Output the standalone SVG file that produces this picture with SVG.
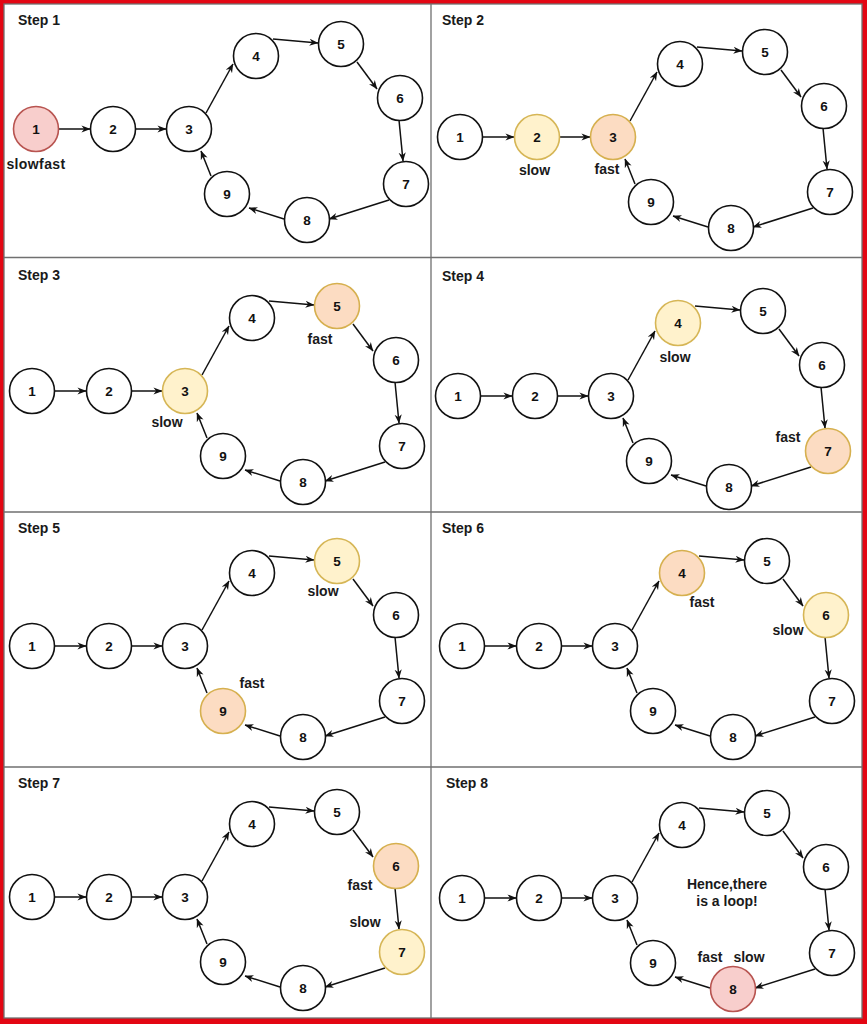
<svg xmlns="http://www.w3.org/2000/svg" width="867" height="1024" viewBox="0 0 867 1024">
<defs>
<style>
.title{font:bold 14px "Liberation Sans",Arial,sans-serif;fill:#1a1a1a}
.lbl{font:bold 14px "Liberation Sans",Arial,sans-serif;fill:#1a1a1a;text-anchor:middle}
.node circle{fill:#ffffff;stroke:#111;stroke-width:1.6}
.node text{font:bold 13.5px "Liberation Sans",Arial,sans-serif;fill:#111;text-anchor:middle}
.node.slow circle{fill:#fff2cc;stroke:#d6b656}
.node.fast circle{fill:#fcdcc2;stroke:#d6b04f}
.node.hit circle{fill:#f8cecc;stroke:#b85450}
.links path{fill:none;stroke:#111;stroke-width:1.5;marker-end:url(#arrow)}
.grid{stroke:#707070;stroke-width:1.3;fill:none}
.sheet{fill:#ffffff;stroke:#707070;stroke-width:1.3}
</style>
<marker id="arrow" viewBox="0 0 10 10" refX="9.5" refY="5" markerWidth="9" markerHeight="9" markerUnits="userSpaceOnUse" orient="auto">
<path d="M0,1 L10,5 L0,9 L3,5 z" fill="#111"/>
</marker>
</defs>

<!-- frame and panel grid -->
<rect x="0" y="0" width="867" height="1024" fill="#e30613"/>
<rect class="sheet" x="4" y="4" width="858" height="1014"/>
<path class="grid" d="M431,4 V1018 M4,257.5 H862 M4,512 H862 M4,767 H862"/>

<!-- step titles -->
<text class="title" x="18" y="25">Step 1</text>
<text class="title" x="442" y="25">Step 2</text>
<text class="title" x="18" y="280">Step 3</text>
<text class="title" x="442" y="281">Step 4</text>
<text class="title" x="18" y="533">Step 5</text>
<text class="title" x="442" y="533">Step 6</text>
<text class="title" x="18" y="788">Step 7</text>
<text class="title" x="446" y="788">Step 8</text>

<!-- Step 1 -->
<g id="step1" transform="translate(0,0)">
<g class="links">
<path d="M59,129 L90,129"/><path d="M136,129 L166,129"/><path d="M206,113 L233,64"/><path d="M273,39 L318,43"/><path d="M357,62 L377,89"/><path d="M399,120 L403,161"/><path d="M389,200 L329,219"/><path d="M284,219 L249,208"/><path d="M211,176 L201,151"/>
</g>
<g id="s1-n1" class="node hit"><circle cx="36" cy="129" r="22.5"/><text x="36" y="133.8">1</text></g>
<g id="s1-n2" class="node"><circle cx="113" cy="129" r="22.5"/><text x="113" y="133.8">2</text></g>
<g id="s1-n3" class="node"><circle cx="189" cy="129" r="22.5"/><text x="189" y="133.8">3</text></g>
<g id="s1-n4" class="node"><circle cx="256" cy="56" r="22.5"/><text x="256" y="60.8">4</text></g>
<g id="s1-n5" class="node"><circle cx="341" cy="44" r="22.5"/><text x="341" y="48.8">5</text></g>
<g id="s1-n6" class="node"><circle cx="400" cy="98" r="22.5"/><text x="400" y="102.8">6</text></g>
<g id="s1-n7" class="node"><circle cx="406" cy="184" r="22.5"/><text x="406" y="188.8">7</text></g>
<g id="s1-n8" class="node"><circle cx="307" cy="220" r="22.5"/><text x="307" y="224.8">8</text></g>
<g id="s1-n9" class="node"><circle cx="227" cy="194" r="22.5"/><text x="227" y="198.8">9</text></g>
<text class="lbl" x="36" y="169" letter-spacing="0.4">slowfast</text>
</g>

<!-- Step 2 -->
<g id="step2" transform="translate(424,8)">
<g class="links">
<path d="M59,129 L90,129"/><path d="M136,129 L166,129"/><path d="M206,113 L233,64"/><path d="M273,39 L318,43"/><path d="M357,62 L377,89"/><path d="M399,120 L403,161"/><path d="M389,200 L329,219"/><path d="M284,219 L249,208"/><path d="M211,176 L201,151"/>
</g>
<g id="s2-n1" class="node"><circle cx="36" cy="129" r="22.5"/><text x="36" y="133.8">1</text></g>
<g id="s2-n2" class="node slow"><circle cx="113" cy="129" r="22.5"/><text x="113" y="133.8">2</text></g>
<g id="s2-n3" class="node fast"><circle cx="189" cy="129" r="22.5"/><text x="189" y="133.8">3</text></g>
<g id="s2-n4" class="node"><circle cx="256" cy="56" r="22.5"/><text x="256" y="60.8">4</text></g>
<g id="s2-n5" class="node"><circle cx="341" cy="44" r="22.5"/><text x="341" y="48.8">5</text></g>
<g id="s2-n6" class="node"><circle cx="400" cy="98" r="22.5"/><text x="400" y="102.8">6</text></g>
<g id="s2-n7" class="node"><circle cx="406" cy="184" r="22.5"/><text x="406" y="188.8">7</text></g>
<g id="s2-n8" class="node"><circle cx="307" cy="220" r="22.5"/><text x="307" y="224.8">8</text></g>
<g id="s2-n9" class="node"><circle cx="227" cy="194" r="22.5"/><text x="227" y="198.8">9</text></g>
<text class="lbl" x="110.5" y="167">slow</text>
<text class="lbl" x="183" y="166">fast</text>
</g>

<!-- Step 3 -->
<g id="step3" transform="translate(-4,262)">
<g class="links">
<path d="M59,129 L90,129"/><path d="M136,129 L166,129"/><path d="M206,113 L233,64"/><path d="M273,39 L318,43"/><path d="M357,62 L377,89"/><path d="M399,120 L403,161"/><path d="M389,200 L329,219"/><path d="M284,219 L249,208"/><path d="M211,176 L201,151"/>
</g>
<g id="s3-n1" class="node"><circle cx="36" cy="129" r="22.5"/><text x="36" y="133.8">1</text></g>
<g id="s3-n2" class="node"><circle cx="113" cy="129" r="22.5"/><text x="113" y="133.8">2</text></g>
<g id="s3-n3" class="node slow"><circle cx="189" cy="129" r="22.5"/><text x="189" y="133.8">3</text></g>
<g id="s3-n4" class="node"><circle cx="256" cy="56" r="22.5"/><text x="256" y="60.8">4</text></g>
<g id="s3-n5" class="node fast"><circle cx="341" cy="44" r="22.5"/><text x="341" y="48.8">5</text></g>
<g id="s3-n6" class="node"><circle cx="400" cy="98" r="22.5"/><text x="400" y="102.8">6</text></g>
<g id="s3-n7" class="node"><circle cx="406" cy="184" r="22.5"/><text x="406" y="188.8">7</text></g>
<g id="s3-n8" class="node"><circle cx="307" cy="220" r="22.5"/><text x="307" y="224.8">8</text></g>
<g id="s3-n9" class="node"><circle cx="227" cy="194" r="22.5"/><text x="227" y="198.8">9</text></g>
<text class="lbl" x="324" y="82">fast</text>
<text class="lbl" x="171" y="165">slow</text>
</g>

<!-- Step 4 -->
<g id="step4" transform="translate(422,267)">
<g class="links">
<path d="M59,129 L90,129"/><path d="M136,129 L166,129"/><path d="M206,113 L233,64"/><path d="M273,39 L318,43"/><path d="M357,62 L377,89"/><path d="M399,120 L403,161"/><path d="M389,200 L329,219"/><path d="M284,219 L249,208"/><path d="M211,176 L201,151"/>
</g>
<g id="s4-n1" class="node"><circle cx="36" cy="129" r="22.5"/><text x="36" y="133.8">1</text></g>
<g id="s4-n2" class="node"><circle cx="113" cy="129" r="22.5"/><text x="113" y="133.8">2</text></g>
<g id="s4-n3" class="node"><circle cx="189" cy="129" r="22.5"/><text x="189" y="133.8">3</text></g>
<g id="s4-n4" class="node slow"><circle cx="256" cy="56" r="22.5"/><text x="256" y="60.8">4</text></g>
<g id="s4-n5" class="node"><circle cx="341" cy="44" r="22.5"/><text x="341" y="48.8">5</text></g>
<g id="s4-n6" class="node"><circle cx="400" cy="98" r="22.5"/><text x="400" y="102.8">6</text></g>
<g id="s4-n7" class="node fast"><circle cx="406" cy="184" r="22.5"/><text x="406" y="188.8">7</text></g>
<g id="s4-n8" class="node"><circle cx="307" cy="220" r="22.5"/><text x="307" y="224.8">8</text></g>
<g id="s4-n9" class="node"><circle cx="227" cy="194" r="22.5"/><text x="227" y="198.8">9</text></g>
<text class="lbl" x="253" y="95">slow</text>
<text class="lbl" x="366" y="175">fast</text>
</g>

<!-- Step 5 -->
<g id="step5" transform="translate(-4,517)">
<g class="links">
<path d="M59,129 L90,129"/><path d="M136,129 L166,129"/><path d="M206,113 L233,64"/><path d="M273,39 L318,43"/><path d="M357,62 L377,89"/><path d="M399,120 L403,161"/><path d="M389,200 L329,219"/><path d="M284,219 L249,208"/><path d="M211,176 L201,151"/>
</g>
<g id="s5-n1" class="node"><circle cx="36" cy="129" r="22.5"/><text x="36" y="133.8">1</text></g>
<g id="s5-n2" class="node"><circle cx="113" cy="129" r="22.5"/><text x="113" y="133.8">2</text></g>
<g id="s5-n3" class="node"><circle cx="189" cy="129" r="22.5"/><text x="189" y="133.8">3</text></g>
<g id="s5-n4" class="node"><circle cx="256" cy="56" r="22.5"/><text x="256" y="60.8">4</text></g>
<g id="s5-n5" class="node slow"><circle cx="341" cy="44" r="22.5"/><text x="341" y="48.8">5</text></g>
<g id="s5-n6" class="node"><circle cx="400" cy="98" r="22.5"/><text x="400" y="102.8">6</text></g>
<g id="s5-n7" class="node"><circle cx="406" cy="184" r="22.5"/><text x="406" y="188.8">7</text></g>
<g id="s5-n8" class="node"><circle cx="307" cy="220" r="22.5"/><text x="307" y="224.8">8</text></g>
<g id="s5-n9" class="node fast"><circle cx="227" cy="194" r="22.5"/><text x="227" y="198.8">9</text></g>
<text class="lbl" x="327" y="79">slow</text>
<text class="lbl" x="256" y="171">fast</text>
</g>

<!-- Step 6 -->
<g id="step6" transform="translate(426,517)">
<g class="links">
<path d="M59,129 L90,129"/><path d="M136,129 L166,129"/><path d="M206,113 L233,64"/><path d="M273,39 L318,43"/><path d="M357,62 L377,89"/><path d="M399,120 L403,161"/><path d="M389,200 L329,219"/><path d="M284,219 L249,208"/><path d="M211,176 L201,151"/>
</g>
<g id="s6-n1" class="node"><circle cx="36" cy="129" r="22.5"/><text x="36" y="133.8">1</text></g>
<g id="s6-n2" class="node"><circle cx="113" cy="129" r="22.5"/><text x="113" y="133.8">2</text></g>
<g id="s6-n3" class="node"><circle cx="189" cy="129" r="22.5"/><text x="189" y="133.8">3</text></g>
<g id="s6-n4" class="node fast"><circle cx="256" cy="56" r="22.5"/><text x="256" y="60.8">4</text></g>
<g id="s6-n5" class="node"><circle cx="341" cy="44" r="22.5"/><text x="341" y="48.8">5</text></g>
<g id="s6-n6" class="node slow"><circle cx="400" cy="98" r="22.5"/><text x="400" y="102.8">6</text></g>
<g id="s6-n7" class="node"><circle cx="406" cy="184" r="22.5"/><text x="406" y="188.8">7</text></g>
<g id="s6-n8" class="node"><circle cx="307" cy="220" r="22.5"/><text x="307" y="224.8">8</text></g>
<g id="s6-n9" class="node"><circle cx="227" cy="194" r="22.5"/><text x="227" y="198.8">9</text></g>
<text class="lbl" x="276" y="90">fast</text>
<text class="lbl" x="362" y="118">slow</text>
</g>

<!-- Step 7 -->
<g id="step7" transform="translate(-4,768)">
<g class="links">
<path d="M59,129 L90,129"/><path d="M136,129 L166,129"/><path d="M206,113 L233,64"/><path d="M273,39 L318,43"/><path d="M357,62 L377,89"/><path d="M399,120 L403,161"/><path d="M389,200 L329,219"/><path d="M284,219 L249,208"/><path d="M211,176 L201,151"/>
</g>
<g id="s7-n1" class="node"><circle cx="36" cy="129" r="22.5"/><text x="36" y="133.8">1</text></g>
<g id="s7-n2" class="node"><circle cx="113" cy="129" r="22.5"/><text x="113" y="133.8">2</text></g>
<g id="s7-n3" class="node"><circle cx="189" cy="129" r="22.5"/><text x="189" y="133.8">3</text></g>
<g id="s7-n4" class="node"><circle cx="256" cy="56" r="22.5"/><text x="256" y="60.8">4</text></g>
<g id="s7-n5" class="node"><circle cx="341" cy="44" r="22.5"/><text x="341" y="48.8">5</text></g>
<g id="s7-n6" class="node fast"><circle cx="400" cy="98" r="22.5"/><text x="400" y="102.8">6</text></g>
<g id="s7-n7" class="node slow"><circle cx="406" cy="184" r="22.5"/><text x="406" y="188.8">7</text></g>
<g id="s7-n8" class="node"><circle cx="307" cy="220" r="22.5"/><text x="307" y="224.8">8</text></g>
<g id="s7-n9" class="node"><circle cx="227" cy="194" r="22.5"/><text x="227" y="198.8">9</text></g>
<text class="lbl" x="364" y="122">fast</text>
<text class="lbl" x="369" y="159">slow</text>
</g>

<!-- Step 8 -->
<g id="step8" transform="translate(426,769)">
<g class="links">
<path d="M59,129 L90,129"/><path d="M136,129 L166,129"/><path d="M206,113 L233,64"/><path d="M273,39 L318,43"/><path d="M357,62 L377,89"/><path d="M399,120 L403,161"/><path d="M389,200 L329,219"/><path d="M284,219 L249,208"/><path d="M211,176 L201,151"/>
</g>
<g id="s8-n1" class="node"><circle cx="36" cy="129" r="22.5"/><text x="36" y="133.8">1</text></g>
<g id="s8-n2" class="node"><circle cx="113" cy="129" r="22.5"/><text x="113" y="133.8">2</text></g>
<g id="s8-n3" class="node"><circle cx="189" cy="129" r="22.5"/><text x="189" y="133.8">3</text></g>
<g id="s8-n4" class="node"><circle cx="256" cy="56" r="22.5"/><text x="256" y="60.8">4</text></g>
<g id="s8-n5" class="node"><circle cx="341" cy="44" r="22.5"/><text x="341" y="48.8">5</text></g>
<g id="s8-n6" class="node"><circle cx="400" cy="98" r="22.5"/><text x="400" y="102.8">6</text></g>
<g id="s8-n7" class="node"><circle cx="406" cy="184" r="22.5"/><text x="406" y="188.8">7</text></g>
<g id="s8-n8" class="node hit"><circle cx="307" cy="220" r="22.5"/><text x="307" y="224.8">8</text></g>
<g id="s8-n9" class="node"><circle cx="227" cy="194" r="22.5"/><text x="227" y="198.8">9</text></g>
<text class="lbl" x="284" y="193">fast</text>
<text class="lbl" x="323" y="193">slow</text>
<text class="lbl" x="301" y="120">Hence,there</text>
<text class="lbl" x="301" y="137">is a loop!</text>
</g>
</svg>
